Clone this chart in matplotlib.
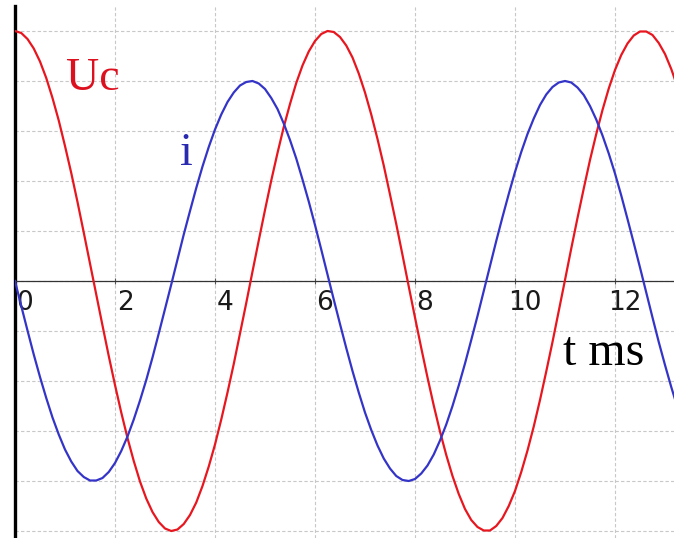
import matplotlib.pyplot as plt

# time axis in ms (0.125 ms steps)
t_ms = [0.0, 0.125, 0.25, 0.375, 0.5, 0.625, 0.75, 0.875, 1.0, 1.125,
        1.25, 1.375, 1.5, 1.625, 1.75, 1.875, 2.0, 2.125, 2.25, 2.375,
        2.5, 2.625, 2.75, 2.875, 3.0, 3.125, 3.25, 3.375, 3.5, 3.625,
        3.75, 3.875, 4.0, 4.125, 4.25, 4.375, 4.5, 4.625, 4.75, 4.875,
        5.0, 5.125, 5.25, 5.375, 5.5, 5.625, 5.75, 5.875, 6.0, 6.125,
        6.25, 6.375, 6.5, 6.625, 6.75, 6.875, 7.0, 7.125, 7.25, 7.375,
        7.5, 7.625, 7.75, 7.875, 8.0, 8.125, 8.25, 8.375, 8.5, 8.625,
        8.75, 8.875, 9.0, 9.125, 9.25, 9.375, 9.5, 9.625, 9.75, 9.875,
        10.0, 10.125, 10.25, 10.375, 10.5, 10.625, 10.75, 10.875, 11.0,
        11.125, 11.25, 11.375, 11.5, 11.625, 11.75, 11.875, 12.0, 12.125,
        12.25, 12.375, 12.5, 12.625, 12.75, 12.875, 13.0, 13.125, 13.25]

uc_vals = [5.00, 4.96, 4.84, 4.65, 4.39, 4.06, 3.66, 3.21, 2.70, 2.16,
           1.58, 0.97, 0.35, -0.27, -0.89, -1.50, -2.08, -2.63, -3.14,
           -3.60, -4.01, -4.35, -4.62, -4.82, -4.95, -5.00, -4.97, -4.86,
           -4.68, -4.43, -4.10, -3.71, -3.27, -2.77, -2.23, -1.66, -1.05,
           -0.44, 0.19, 0.81, 1.42, 2.01, 2.56, 3.08, 3.54, 3.96, 4.31,
           4.59, 4.80, 4.94, 5.00, 4.98, 4.88, 4.71, 4.47, 4.15, 3.77,
           3.33, 2.84, 2.31, 1.73, 1.14, 0.52, -0.11, -0.73, -1.34, -1.93,
           -2.49, -3.01, -3.48, -3.90, -4.26, -4.56, -4.78, -4.92, -4.99,
           -4.99, -4.90, -4.74, -4.50, -4.20, -3.82, -3.39, -2.91, -2.38,
           -1.81, -1.22, -0.60, 0.02, 0.65, 1.26, 1.85, 2.42, 2.94, 3.42,
           3.85, 4.22, 4.52, 4.75, 4.91, 4.99, 4.99, 4.92, 4.76, 4.54,
           4.24, 3.88]

i_vals = [0.00, -0.50, -0.99, -1.47, -1.92, -2.34, -2.73, -3.07, -3.37,
          -3.61, -3.80, -3.92, -3.99, -3.99, -3.94, -3.82, -3.64, -3.40,
          -3.11, -2.77, -2.39, -1.98, -1.53, -1.05, -0.56, -0.07, 0.43,
          0.93, 1.40, 1.86, 2.29, 2.68, 3.03, 3.33, 3.58, 3.77, 3.91, 3.98,
          4.00, 3.95, 3.84, 3.66, 3.44, 3.15, 2.82, 2.45, 2.03, 1.59, 1.12,
          0.63, 0.13, -0.37, -0.86, -1.34, -1.80, -2.23, -2.63, -2.98,
          -3.29, -3.55, -3.75, -3.90, -3.98, -4.00, -3.96, -3.85, -3.69,
          -3.47, -3.19, -2.87, -2.50, -2.09, -1.65, -1.18, -0.70, -0.20,
          0.30, 0.80, 1.28, 1.74, 2.18, 2.58, 2.94, 3.25, 3.52, 3.73, 3.88,
          3.97, 4.00, 3.97, 3.87, 3.72, 3.50, 3.23, 2.91, 2.55, 2.15, 1.71,
          1.24, 0.76, 0.27, -0.23, -0.73, -1.22, -1.68, -2.12, -2.53]

x_ticks = [0, 2, 4, 6, 8, 10, 12]
x_labels = ["0", "2", "4", "6", "8", "10", "12"]

RED = "#e8161e"
BLUE = "#3434c8"

fig = plt.figure(figsize=(6.74, 5.38), dpi=100)
ax = fig.add_axes([15 / 674, 0, 659 / 674, 532 / 538])
ax.set_xlim(0, 13.18)
ax.set_ylim(-5.14, 5.5)

ax.plot(t_ms, uc_vals, color=RED, linewidth=1.6, zorder=3)
ax.plot(t_ms, i_vals, color=BLUE, linewidth=1.6, zorder=3)

# axes look: thick left line, thin zero line, dashed grid
for side in ["top", "right"]:
    ax.spines[side].set_visible(False)
ax.spines["left"].set_linewidth(2.4)
ax.spines["left"].set_color("black")
ax.spines["bottom"].set_position(("data", 0))
ax.spines["bottom"].set_color("#333333")
ax.spines["bottom"].set_linewidth(0.9)

ax.set_xticks(x_ticks)
ax.tick_params(axis="x", direction="inout", length=4, width=0.8,
               color="#555555", labelbottom=False)
ax.set_yticks(range(-5, 6))
ax.tick_params(axis="y", length=0, labelleft=False)
ax.grid(True, color="#c8c8c8", linestyle=(0, (3, 2)), linewidth=0.8)
ax.set_axisbelow(True)

# tick labels sit just right of each grid line, below the zero line
for xt, lab in zip(x_ticks, x_labels):
    ax.text(xt + 0.2, -0.43, lab, family="DejaVu Sans", fontsize=19,
            color="#1a1a1a", ha="center", va="center", zorder=2)

ax.text(1.56, 3.82, "Uc", color="#dd1020", family="Liberation Serif",
        fontsize=33, ha="center", va="baseline")
ax.text(3.42, 2.32, "i", color="#2a2ab0", family="Liberation Serif",
        fontsize=33, ha="center", va="baseline")
ax.text(11.78, -1.68, "t ms", color="black", family="Liberation Serif",
        fontsize=34.5, ha="center", va="baseline")

fig.savefig("out.png", dpi=100)
